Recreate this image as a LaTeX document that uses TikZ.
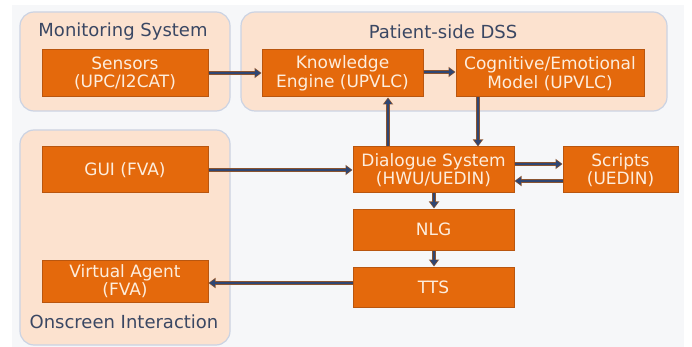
\documentclass[tikz,border=0pt]{standalone}
\usepackage{fontspec}
\setmainfont{DejaVu Sans}
\usetikzlibrary{arrows.meta}
\definecolor{pagebg}{HTML}{F6F7F9}
\definecolor{groupfill}{HTML}{FCE2CF}
\definecolor{groupline}{HTML}{CBD3E3}
\definecolor{boxfill}{HTML}{E4690C}
\definecolor{boxline}{HTML}{B9560F}
\definecolor{boxtext}{HTML}{FDEDDD}
\definecolor{titletext}{HTML}{3A4763}
\definecolor{arrowcore}{HTML}{2F4673}
\definecolor{arrowedge}{HTML}{8A5430}
\tikzset{
  group/.style={draw=groupline, line width=1.2pt, fill=groupfill, rounded corners=14pt},
  grouptitle/.style={text=titletext, font=\fontsize{18}{20}\selectfont, inner sep=0pt},
  block/.style={draw=boxline, line width=1pt, fill=boxfill, text=boxtext,
    font=\fontsize{17}{18.5}\selectfont, align=center, inner sep=0pt},
  link/.style={arrowedge, line width=4.6pt, -{Triangle[length=7pt,width=10pt]},
    postaction={draw=arrowcore, line width=2.6pt, -{Triangle[length=5.5pt,width=7pt]}, shorten >=0.9pt}},
}
\begin{document}
\begin{tikzpicture}[x=1pt,y=-1pt]
\useasboundingbox (0,0) rectangle (692,347);
% page background
\fill[pagebg] (12,5) rectangle (684,347);
% group frames
\draw[group] (20,12) rectangle (230,111);
\draw[group] (241,12) rectangle (667,111);
\draw[group] (20,130) rectangle (230,345);
\node[grouptitle] (tmon) at (123,32) {Monitoring System};
\node[grouptitle] (tdss) at (443,32) {Patient-side DSS};
\node[grouptitle] (tons) at (124,322) {Onscreen Interaction};
% component blocks
\node[block, minimum width=166pt, minimum height=47pt] (sens) at (125,73.5) {Sensors\\(UPC/I2CAT)};
\node[block, minimum width=161pt, minimum height=47pt] (ke) at (342.5,73.5) {Knowledge\\Engine (UPVLC)};
\node[block, minimum width=188pt, minimum height=47pt] (cog) at (550,73.5) {Cognitive/Emotional\\Model (UPVLC)};
\node[block, minimum width=166pt, minimum height=46pt] (gui) at (125,170) {GUI (FVA)};
\node[block, minimum width=166pt, minimum height=42pt] (va) at (125,281) {Virtual Agent\\(FVA)};
\node[block, minimum width=161pt, minimum height=46pt] (ds) at (433.5,170) {Dialogue System\\(HWU/UEDIN)};
\node[block, minimum width=115pt, minimum height=46pt] (scr) at (620.5,170) {Scripts\\(UEDIN)};
\node[block, minimum width=161pt, minimum height=41pt] (nlg) at (433.5,229.5) {NLG};
\node[block, minimum width=161pt, minimum height=40pt] (tts) at (433.5,287) {TTS};
% connectors
\draw[link] (sens.east |- 0,73) -- (ke.west |- 0,73);
\draw[link] (ke.east |- 0,72) -- (cog.west |- 0,72);
\draw[link] (ds.north -| 388,0) -- (ke.south -| 388,0);
\draw[link] (cog.south -| 478,0) -- (ds.north -| 478,0);
\draw[link] (gui.east) -- (ds.west);
\draw[link] (ds.east |- 0,164) -- (scr.west |- 0,164);
\draw[link] (scr.west |- 0,181) -- (ds.east |- 0,181);
\draw[link] (ds.south -| 434,0) -- (nlg.north -| 434,0);
\draw[link] (nlg.south -| 434,0) -- (tts.north -| 434,0);
\draw[link] (tts.west |- 0,283) -- (va.east |- 0,283);
\end{tikzpicture}
\end{document}
